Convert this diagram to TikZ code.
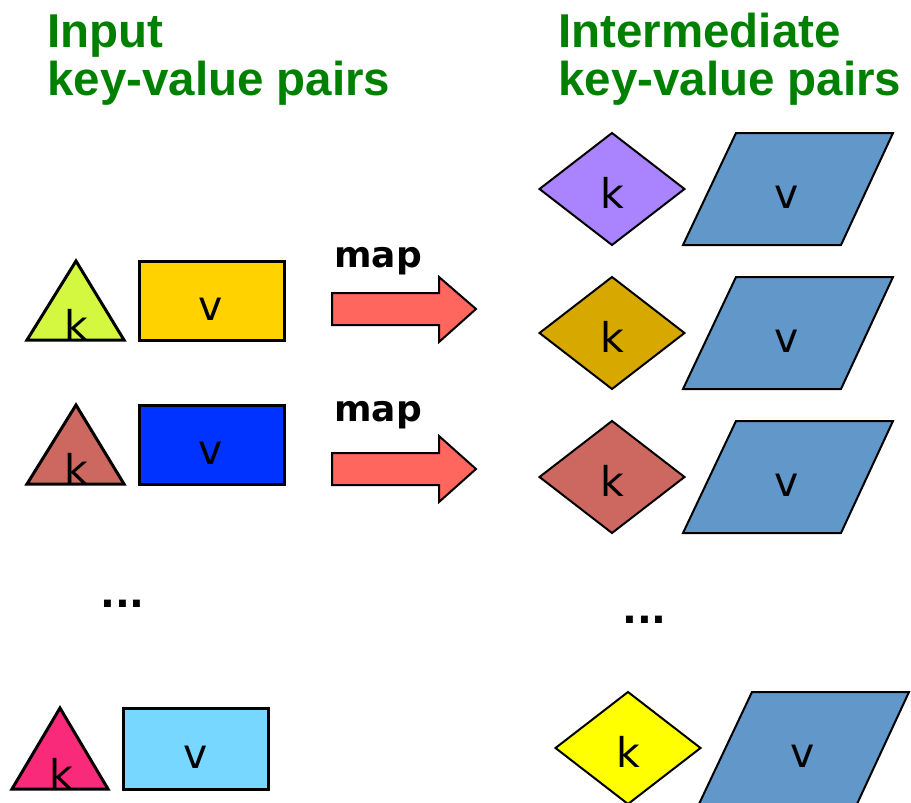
\documentclass[tikz,border=0pt]{standalone}
\usepackage{fontspec}
\setmainfont{Liberation Sans}
\newfontfamily\titlefont{Liberation Sans}
\newfontfamily\kvfont{DejaVu Sans}
\definecolor{titlegreen}{RGB}{0,128,0}
\definecolor{triA}{RGB}{212,248,64}
\definecolor{rectA}{RGB}{255,210,0}
\definecolor{triB}{RGB}{205,104,96}
\definecolor{rectB}{RGB}{0,51,255}
\definecolor{triC}{RGB}{250,42,122}
\definecolor{rectC}{RGB}{120,215,255}
\definecolor{arrowfill}{RGB}{255,102,94}
\definecolor{diaA}{RGB}{170,131,255}
\definecolor{diaB}{RGB}{214,168,0}
\definecolor{diaC}{RGB}{205,104,96}
\definecolor{diaD}{RGB}{255,255,0}
\definecolor{parafill}{RGB}{97,151,201}
\begin{document}
\begin{tikzpicture}[x=1pt,y=-1pt,
  title/.style={inner sep=0pt, anchor=base west, text=titlegreen, font=\titlefont\bfseries\fontsize{47.5}{50}\selectfont},
  thickshape/.style={draw=black, line width=3pt, line join=miter},
  thinshape/.style={draw=black, line width=2pt, line join=miter},
  lab/.style={inner sep=0pt, anchor=base, font=\kvfont\fontsize{41}{41}\selectfont},
  maplab/.style={inner sep=0pt, anchor=base west, font=\kvfont\bfseries\fontsize{36}{36}\selectfont},
  dotlab/.style={inner sep=0pt, anchor=base west, font=\kvfont\bfseries\fontsize{39}{39}\selectfont}]
\useasboundingbox (0,0) rectangle (911,803);

% titles
\node[title] (inA) at (47,47) {Input};
\node[title] (inB) at (47,95) {key-value pairs};
\node[title] (imA) at (558,47) {Intermediate};
\node[title] (imB) at (558,95) {key-value pairs};

% input pairs
\filldraw[thickshape, fill=triA] (27,340) -- (76,261) -- (124,340) -- cycle;
\filldraw[thickshape, fill=rectA] (139,261) rectangle (284,340);
\node[lab] (kA) at (76,340) {k};
\node[lab] (vA) at (211,320) {v};

\filldraw[thickshape, fill=triB] (27,484) -- (76,405) -- (124,484) -- cycle;
\filldraw[thickshape, fill=rectB] (139,405) rectangle (284,484);
\node[lab] (kB) at (76,484) {k};
\node[lab] (vB) at (211,464) {v};

\node[dotlab] (dotsL) at (100,607) {...};

\filldraw[thickshape, fill=triC] (12,789) -- (60,708) -- (108,789) -- cycle;
\filldraw[thickshape, fill=rectC] (123,708) rectangle (268,789);
\node[lab] (kC) at (61,789) {k};
\node[lab] (vC) at (196,768) {v};

% map arrows
\node[maplab] (mapA) at (334,267) {map};
\filldraw[thinshape, fill=arrowfill] (332,293) -- (439,293) -- (439,277) -- (476,309) -- (439,342) -- (439,325) -- (332,325) -- cycle;
\node[maplab] (mapB) at (334,421) {map};
\filldraw[thinshape, fill=arrowfill] (332,453) -- (439,453) -- (439,436) -- (476,469) -- (439,502) -- (439,485) -- (332,485) -- cycle;

% intermediate pairs
\foreach \cy/\col/\nm in {189/diaA/a, 333/diaB/b, 477/diaC/c} {
  \filldraw[thinshape, fill=\col] (539.5,\cy) -- (612,\cy-56) -- (684.5,\cy) -- (612,\cy+56) -- cycle;
  \filldraw[thinshape, fill=parafill] (736,\cy-56) -- (893,\cy-56) -- (841,\cy+56) -- (683,\cy+56) -- cycle;
  \node[lab] (k\nm) at (612,\cy+19) {k};
  \node[lab] (v\nm) at (787,\cy+19) {v};
}
\node[dotlab] (dotsR) at (622,623) {...};
\filldraw[thinshape, fill=diaD] (555.5,748) -- (628,692) -- (700.5,748) -- (628,804) -- cycle;
\filldraw[thinshape, fill=parafill] (752,692) -- (909,692) -- (857,804) -- (699,804) -- cycle;
\node[lab] (kd) at (628,767) {k};
\node[lab] (vd) at (803,767) {v};
\end{tikzpicture}
\end{document}
